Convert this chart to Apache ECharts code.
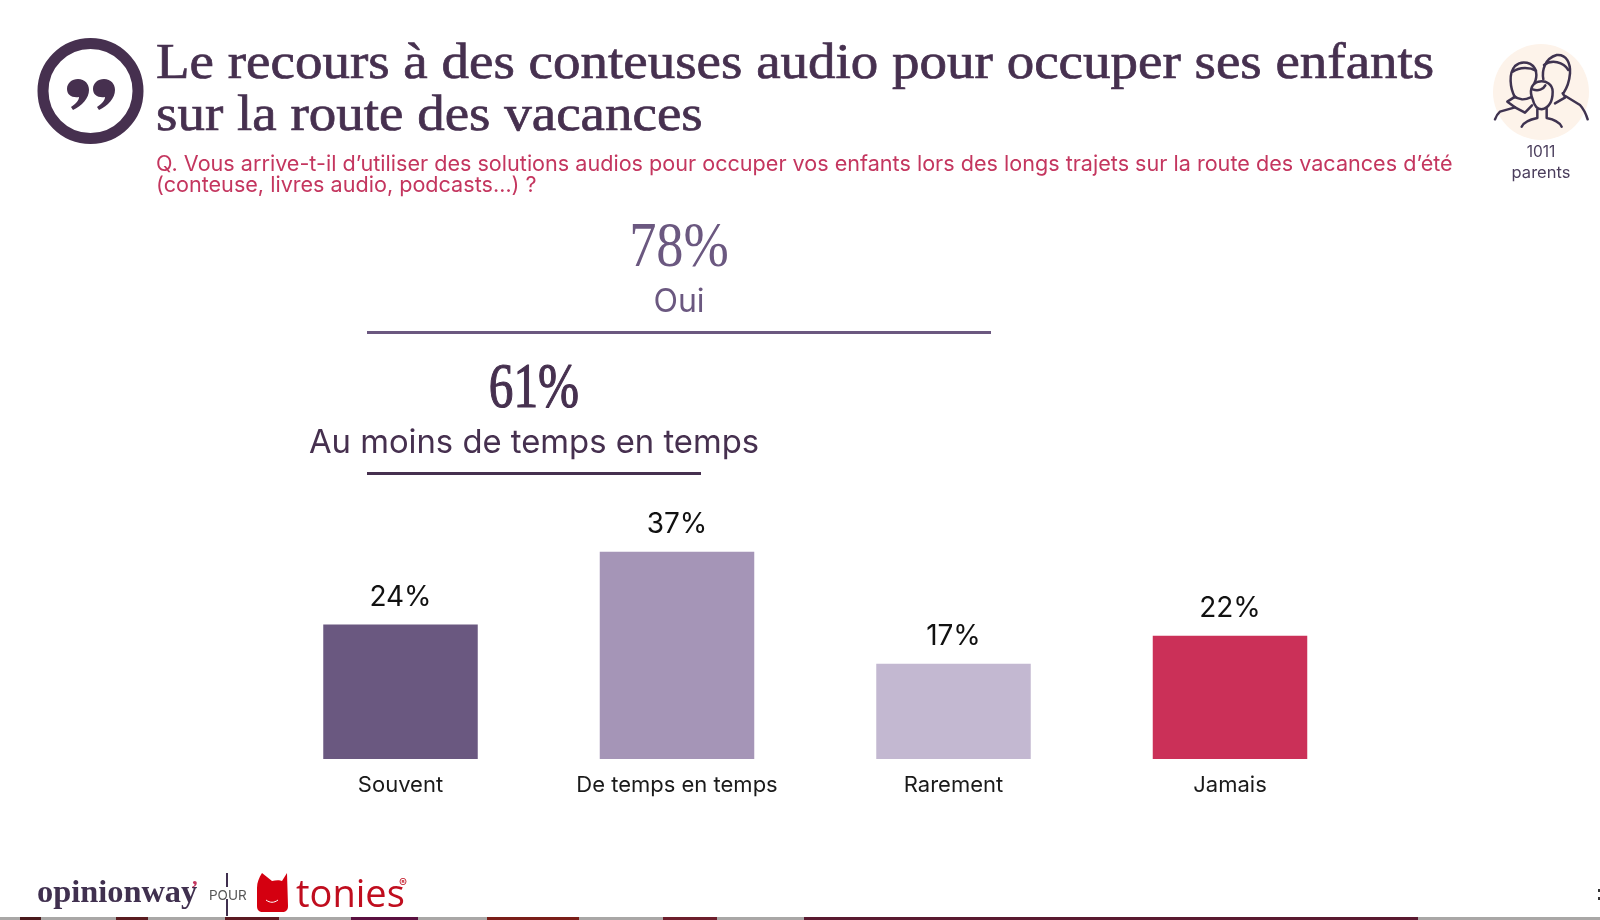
<!DOCTYPE html>
<html lang="fr">
<head>
<meta charset="utf-8">
<title>Conteuses audio</title>
<style>html,body{margin:0;padding:0;background:#fff}#chart{width:1600px;height:920px}</style>
<script src="https://cdn.jsdelivr.net/npm/echarts@6/dist/echarts.min.js"></script>
</head>
<body>
<div id="chart"></div>
<script>
// Survey answers
const categories = ['Souvent', 'De temps en temps', 'Rarement', 'Jamais'];
const shares = [24, 37, 17, 22];
const barColors = ['#6a5880', '#a595b7', '#c3b8d1', '#cb3058'];

// Headline and summary texts
const titleLines = ['Le recours à des conteuses audio pour occuper ses enfants', 'sur la route des vacances'];
const questionLines = [
  'Q. Vous arrive-t-il d’utiliser des solutions audios pour occuper vos enfants lors des longs trajets sur la route des vacances d’été',
  '(conteuse, livres audio, podcasts…) ?'
];
const totalYes = '78%';
const totalAtLeast = '61%';

const PLUM = '#46304f';
const MAUVE = '#6b5880';
const CRIMSON = '#c4365f';
const SERIF = '"Liberation Serif", serif';
const SANS = 'Inter, sans-serif';

// Places a text by its baseline; opts may widen or narrow it and thicken its strokes
const text = (t, x, y, size, fill, family, opts) => {
  const o = opts || {};
  const style = {
    text: t, x: 0, y: 0, fill,
    font: `${o.weight || 400} ${size}px ${family}`,
    align: o.align || 'left',
    verticalAlign: 'middle'
  };
  if (o.thicken) {
    style.stroke = fill;
    style.lineWidth = o.thicken;
  }
  return {
    type: 'text', silent: true,
    x, y: y - 0.28 * size,
    scaleX: o.scaleX || 1,
    style
  };
};
const rect = (x, y, w, h, fill) => ({ type: 'rect', silent: true, shape: { x, y, width: w, height: h }, style: { fill } });

// SVG outlines become registered shape types so the graphic component can place them
let shapeCount = 0;
const outline = (d, style) => {
  const name = 'outline' + shapeCount++;
  echarts.graphic.registerShape(name, echarts.graphic.extendPath(d, {}));
  return { type: name, silent: true, style };
};
const strokePath = d => outline(d, { fill: 'none', stroke: '#3f3350', lineWidth: 7.5, lineCap: 'round', lineJoin: 'round' });

// Strip of a video player peeking in at the bottom edge
const stripParts = [
  [0, 1600, '#a9a7a6'], [20, 21, '#4a1a1c'], [116, 32, '#5a1c20'], [225, 54, '#5c1a22'],
  [351, 67, '#5a1040'], [487, 92, '#7a1e18'], [663, 54, '#6d1f2c'], [804, 614, '#5a1a30']
];

const graphicItems = [
  // Quotation badge
  { type: 'circle', silent: true, shape: { cx: 90.5, cy: 91, r: 47.5 }, style: { fill: 'none', stroke: PLUM, lineWidth: 11 } },
  outline('M78 79C85 79 89 84 89 90C89 98 82 106 73 110L71 107C76 104 79 100 79 97C72 98 67 95 67 89C67 83 72 79 78 79Z M104 79C111 79 115 84 115 90C115 98 108 106 99 110L97 107C102 104 105 100 105 97C98 98 93 95 93 89C93 83 98 79 104 79Z', { fill: PLUM }),

  // Headline and question
  text(titleLines[0], 156, 79, 50, PLUM, SERIF, { scaleX: 1.1, thicken: 0.7 }),
  text(titleLines[1], 156, 131, 50, PLUM, SERIF, { scaleX: 1.1, thicken: 0.7 }),
  text(questionLines[0], 156, 171, 21.6, CRIMSON, SANS),
  text(questionLines[1], 156, 192, 21.6, CRIMSON, SANS),

  // Respondent badge
  { type: 'circle', silent: true, shape: { cx: 1541, cy: 92, r: 48 }, style: { fill: '#fdf3ea' } },
  { type: 'group', x: 1400, y: 20, scaleX: 1 / 3, scaleY: 1 / 3, silent: true, children: [
    strokePath('M430 178C425 150 435 115 470 105C500 102 512 130 510 160C508 185 500 205 490 220'),
    strokePath('M432 135C455 118 490 125 505 150'),
    strokePath('M488 220L496 232L465 250'),
    strokePath('M496 228L540 255C552 268 558 282 563 298'),
    strokePath('M345 232C330 205 325 160 345 138C365 120 400 125 408 155C410 165 408 180 403 190'),
    strokePath('M338 155C360 140 390 142 408 152'),
    strokePath('M342 232L322 245L345 262L300 275C292 282 288 290 285 298'),
    strokePath('M345 262L375 278L396 256'),
    strokePath('M342 228C355 240 375 240 392 232'),
    strokePath('M398 238C388 215 392 192 415 185C440 180 458 195 458 215C458 240 450 262 425 268C410 268 402 255 398 238Z'),
    strokePath('M398 208C415 214 430 208 436 196'),
    strokePath('M412 268L412 294C392 298 372 305 365 320'),
    strokePath('M440 266L440 294C460 298 478 305 485 320')
  ] },
  text('1011', 1541, 157, 15.5, '#4a3d5c', SANS, { align: 'center' }),
  text('parents', 1541, 178, 16.5, '#4a3d5c', SANS, { align: 'center' }),

  // Cumulated totals above the bars
  text(totalYes, 679, 267, 64, MAUVE, SERIF, { align: 'center', scaleX: 0.85 }),
  text('Oui', 679, 311, 32, MAUVE, SANS, { align: 'center' }),
  rect(367, 331, 624, 3, MAUVE),
  text(totalAtLeast, 534, 408, 64, PLUM, SERIF, { align: 'center', scaleX: 0.77, thicken: 1.2 }),
  text('Au moins de temps en temps', 534, 452, 32.8, PLUM, SANS, { align: 'center' }),
  rect(367, 472, 334, 3, PLUM),

  // Footer logos
  text('opinionway', 37, 903, 32.4, '#40304f', SERIF, { weight: 700 }),
  text('’', 191, 895, 22, CRIMSON, SERIF, { weight: 700 }),
  rect(226, 873, 2, 14, '#40304f'),
  rect(226, 899, 2, 17, '#40304f'),
  text('POUR', 209, 900, 13.5, '#555555', SANS),
  outline('M262 873L272 881C276 880 280 880 282 881L287 873L288 906C288 910 286 912 282 912H263C259 912 257 910 257 906V888C257 882 259 878 262 873Z', { fill: '#d40010' }),
  outline('M266 900C270 903 274 903 278 900', { fill: 'none', stroke: '#ffffff', lineWidth: 1 }),
  text('tonies', 296, 907, 38, '#c00d1e', '"Open Sans", sans-serif'),
  text('®', 399, 887, 12, '#c00d1e', SANS),

  // Clipped page-number marks at the right edge
  rect(1598, 889, 2, 3, '#333333'),
  rect(1598, 897, 2, 3, '#333333')
];
stripParts.forEach(p => graphicItems.push(rect(p[0], 917, p[1], 3, p[2])));

const chart = echarts.init(document.getElementById('chart'), null, { renderer: 'canvas' });
chart.setOption({
  animation: false,
  backgroundColor: '#ffffff',
  grid: { left: 262.25, top: 535, width: 1106, height: 224 },
  xAxis: {
    type: 'category',
    data: categories,
    axisLine: { show: false },
    axisTick: { show: false },
    axisLabel: { color: '#1a1a1a', fontFamily: SANS, fontSize: 22, margin: 15, interval: 0 }
  },
  yAxis: { type: 'value', min: 0, max: 40, interval: 10, show: false },
  series: [{
    type: 'bar',
    barWidth: 154.5,
    data: shares.map((v, i) => ({ value: v, itemStyle: { color: barColors[i] } })),
    label: {
      show: true, position: 'top', distance: 13,
      formatter: '{c}%', color: '#111111', fontFamily: SANS, fontSize: 28
    }
  }],
  graphic: { elements: graphicItems }
});
</script>
</body>
</html>
